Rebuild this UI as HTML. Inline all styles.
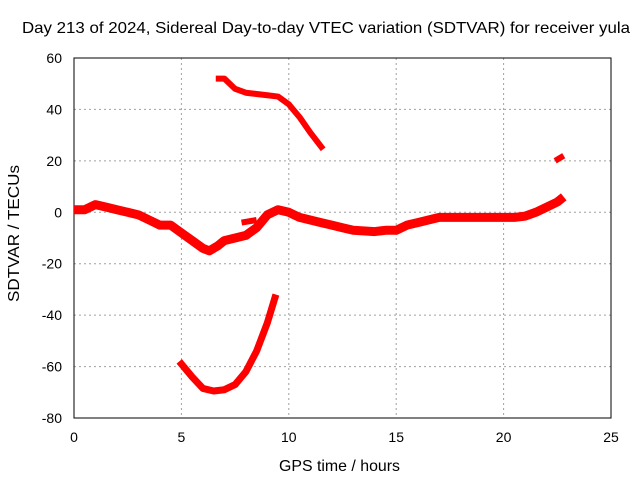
<!DOCTYPE html>
<html><head><meta charset="utf-8"><style>
body{margin:0;background:#fff;}
svg text{font-family:"Liberation Sans",sans-serif;font-size:14px;fill:#000;}
</style></head><body>
<svg id="c" width="640" height="480"></svg>
<script>
const xTicks=[0,5,10,15,20,25];
const yTicks=[60,40,20,0,-20,-40,-60,-80];
const mainHours=[0,0.5,1,1.5,2,2.5,3,3.5,4,4.5,5,5.5,6,6.3,6.7,7,7.5,8,8.5,9,9.5,10,10.5,11,11.5,12,12.5,13,14,14.5,15,15.5,16,16.5,17,18,19,20,20.5,21,21.5,22,22.5,22.8];
const mainVals=[1,1,3,2,1,0,-1,-3,-5,-5,-8,-11,-14,-15,-13,-11,-10,-9,-6,-1,1,0,-2,-3,-4,-5,-6,-7,-7.5,-7,-7,-5,-4,-3,-2,-2,-2,-2,-2,-1.5,0,2,4,6];
const upperHours=[6.6,7,7.5,8,9,9.5,10,10.5,11,11.6];
const upperVals=[52,52,48,46.5,45.5,45,42,37,31,24.5];
const lowerHours=[4.9,5.5,6,6.5,7,7.5,8,8.5,9,9.4];
const lowerVals=[-58,-64,-68.5,-69.5,-69,-67,-62,-54,-43,-32];
const pieceHours=[7.8,8.5];
const pieceVals=[-4,-3];
const tailHours=[22.4,22.8];
const tailVals=[20,22];
const L=74,R=611,T=58,B=418;
const sx=h=>L+(h-0)/25*(R-L);
const sy=v=>T+(60-v)/140*(B-T);
const svg=document.getElementById('c');
const NS='http://www.w3.org/2000/svg';
function mk(t,a){const e=document.createElementNS(NS,t);for(const k in a)e.setAttribute(k,a[k]);svg.appendChild(e);return e;}
xTicks.forEach(t=>{
 const x=sx(t);
 if(t>0&&t<25){const g=mk('line',{x1:x,x2:x,y1:T,y2:B,stroke:'#a0a0a0','stroke-dasharray':'2,3'});
 
 }
 const tk=mk('text',{x:x,y:B+24,'text-anchor':'middle'});tk.textContent=t;
 
 
});
yTicks.forEach(t=>{
 const y=sy(t);
 if(t<60&&t>-80){const g=mk('line',{x1:L,x2:R,y1:y,y2:y,stroke:'#a0a0a0','stroke-dasharray':'2,3'});
 
 }
 const tk=mk('text',{x:L-12,y:y+5,'text-anchor':'end'});tk.textContent=t;
 
 
});
const fr=mk('rect',{x:L,y:T,width:R-L,height:B-T,fill:'none',stroke:'#000','stroke-width':1});


function series(hs,vs,name,w){
 const p=mk('polyline',{points:hs.map((h,i)=>sx(h)+','+sy(vs[i])).join(' '),fill:'none',stroke:'#ff0000','stroke-width':w,'stroke-linejoin':'round'});
 
 
}
series(mainHours,mainVals,'main-series',9);
series(upperHours,upperVals,'upper-arc-series',6);
series(lowerHours,lowerVals,'lower-arc-series',7);
series(pieceHours,pieceVals,'small-segment-series',6);
series(tailHours,tailVals,'tail-segment-series',6);
const ti=mk('text',{x:22,y:33,textLength:608,lengthAdjust:'spacingAndGlyphs',style:'font-size:16px'});ti.textContent='Day 213 of 2024, Sidereal Day-to-day VTEC variation (SDTVAR) for receiver yula';


const xt=mk('text',{x:279,y:471,textLength:121,lengthAdjust:'spacingAndGlyphs',style:'font-size:16px'});xt.textContent='GPS time / hours';


const yt=mk('text',{x:0,y:0,textLength:137,lengthAdjust:'spacingAndGlyphs',style:'font-size:16px',transform:'translate(19 302) rotate(-90)'});yt.textContent='SDTVAR / TECUs';


</script>
</body></html>
